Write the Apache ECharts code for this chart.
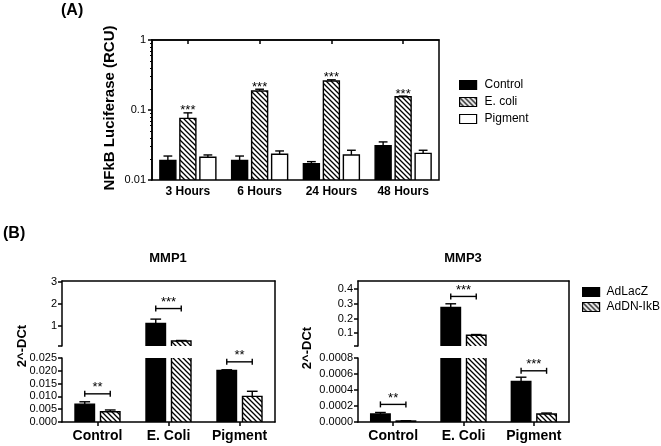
<!DOCTYPE html>
<html><head><meta charset="utf-8">
<script src="https://cdn.jsdelivr.net/npm/echarts@6/dist/echarts.min.js"></script>
<style>html,body{margin:0;padding:0;background:#fff}#c{width:661px;height:446px}</style>
</head><body><div id="c"></div>
<script>
const FONT = "'Liberation Sans', Arial, Helvetica, sans-serif";

// ---------- Panel A data (NFkB luciferase, log scale) ----------
const hourCategories = ['3 Hours', '6 Hours', '24 Hours', '48 Hours'];
const controlA    = [0.019, 0.019, 0.0171, 0.031];
const controlAErr = [0.022, 0.022, 0.0183, 0.035];
const ecoliA      = [0.076, 0.187, 0.26, 0.155];
const ecoliAErr   = [0.091, 0.198, 0.27, 0.158];
const pigmentA    = [0.0211, 0.0233, 0.0228, 0.024];
const pigmentAErr = [0.0228, 0.026, 0.0266, 0.0266];
const starsA      = ['***', '***', '***', '***'];
const minorLogTicksA = [0.02, 0.03, 0.04, 0.05, 0.06, 0.07, 0.08, 0.09, 0.2, 0.3, 0.4, 0.5, 0.6, 0.7, 0.8, 0.9];

// ---------- Panel B data ----------
const groupCategories = ['Control', 'E. Coli', 'Pigment'];
const mmp1LacZ      = [0.007, 1.12, 0.0201];
const mmp1LacZErr   = [0.0079, 1.32, 0.0204];
const mmp1DN        = [0.004, 0.33, 0.010];
const mmp1DNErr     = [0.0047, 0.35, 0.012];
const mmp1BracketAt = [0.011, 1.8, 0.0235];
const mmp1Stars     = ['**', '***', '**'];
const mmp1UpperTicks = [1, 2, 3];

const mmp3LacZ      = [0.0001, 0.275, 0.000506];
const mmp3LacZErr   = [0.000119, 0.30, 0.00056];
const mmp3DN        = [0.0000126, 0.086, 0.0001];
const mmp3DNErr     = [0.000016, 0.091, 0.000112];
const mmp3BracketAt = [0.00022, 0.35, 0.00064];
const mmp3Stars     = ['**', '***', '***'];
const mmp3UpperTicks = [0.1, 0.2, 0.3, 0.4];

// axis segment ranges
const mmp1Upper = [0.1, 3.05], mmp1Lower = [0, 0.025];
const mmp3Upper = [0.013, 0.455], mmp3Lower = [0, 0.0008];

function makeHatch() {
  const p = 5, cv = document.createElement('canvas');
  cv.width = p; cv.height = p;
  const g = cv.getContext('2d');
  g.fillStyle = '#fff'; g.fillRect(0, 0, p, p);
  g.strokeStyle = '#000'; g.lineWidth = 1.3; g.beginPath();
  g.moveTo(-1, -1); g.lineTo(p + 1, p + 1);
  g.moveTo(-1, p - 1); g.lineTo(1, p + 1);
  g.moveTo(p - 1, -1); g.lineTo(p + 1, 1);
  g.stroke();
  return cv;
}
const HATCH = { image: makeHatch(), repeat: 'repeat' };

const LINE = { color: '#000', width: 1.5 };

function barSeries(name, xi, yi, vals, errs, k, n, barW, gap, fill, base) {
  return {
    type: 'custom', name, xAxisIndex: xi, yAxisIndex: yi, clip: true, silent: true,
    itemStyle: { color: fill },
    data: vals.map((v, i) => [i, v, errs[i]]),
    renderItem(params, api) {
      const i = api.value(0), v = api.value(1), e = api.value(2);
      const off = (k - (n - 1) / 2) * (barW + gap);
      const top = api.coord([i, v]), bot = api.coord([i, base]), et = api.coord([i, e]);
      const x = top[0] + off, cap = barW * 0.55;
      return { type: 'group', children: [
        { type: 'rect', shape: { x: x - barW / 2, y: top[1], width: barW, height: bot[1] - top[1] },
          style: { fill, stroke: '#000', lineWidth: 1.4 } },
        { type: 'line', shape: { x1: x, y1: top[1], x2: x, y2: et[1] }, style: { stroke: '#000', lineWidth: 1.4 } },
        { type: 'line', shape: { x1: x - cap / 2, y1: et[1], x2: x + cap / 2, y2: et[1] }, style: { stroke: '#000', lineWidth: 1.4 } }
      ]};
    }
  };
}

function starSeries(xi, yi, vals, labels) {
  return {
    type: 'custom', xAxisIndex: xi, yAxisIndex: yi, silent: true,
    data: vals.map((v, i) => [i, v]),
    renderItem(params, api) {
      const p = api.coord([api.value(0), api.value(1)]);
      return { type: 'text', style: { text: labels[params.dataIndex], x: p[0], y: p[1] - 2,
        align: 'center', verticalAlign: 'middle', textAlign: 'center', textVerticalAlign: 'middle',
        font: '13px ' + FONT, fill: '#000' } };
    }
  };
}

function bracketSeries(xi, yi, vals, labels, range, barW, gap) {
  return {
    type: 'custom', xAxisIndex: xi, yAxisIndex: yi, silent: true, clip: false,
    data: vals.map((v, i) => [i, v]),
    renderItem(params, api) {
      const v = api.value(1);
      if (v < range[0] || v > range[1]) return null;
      const p = api.coord([api.value(0), v]);
      const h = (barW + gap) / 2, x1 = p[0] - h, x2 = p[0] + h, y = p[1];
      const st = { stroke: '#000', lineWidth: 1.4 };
      return { type: 'group', children: [
        { type: 'line', shape: { x1, y1: y, x2, y2: y }, style: st },
        { type: 'line', shape: { x1, y1: y - 3, x2: x1, y2: y + 3 }, style: st },
        { type: 'line', shape: { x1: x2, y1: y - 3, x2, y2: y + 3 }, style: st },
        { type: 'text', style: { text: labels[params.dataIndex], x: p[0], y: y - 6,
          align: 'center', verticalAlign: 'middle', textAlign: 'center', textVerticalAlign: 'middle',
          font: '13px ' + FONT, fill: '#000' } }
      ]};
    }
  };
}

const tickLabel = { color: '#000', fontSize: 11, fontFamily: FONT };
const catLabelA = { color: '#000', fontSize: 12, fontWeight: 'bold', fontFamily: FONT, margin: 6, interval: 0 };
const catLabelB = { color: '#000', fontSize: 14, fontWeight: 'bold', fontFamily: FONT, margin: 7, interval: 0 };

function bottomCat(gi, data, lbl) {
  return { gridIndex: gi, type: 'category', data, position: 'bottom',
    axisLine: { show: true, lineStyle: LINE }, axisTick: { show: true, alignWithLabel: true, interval: 0, length: 4, lineStyle: LINE },
    axisLabel: lbl, splitLine: { show: false } };
}
function topCat(gi, data) {
  return { gridIndex: gi, type: 'category', data, position: 'top',
    axisLine: { show: true, lineStyle: LINE }, axisTick: { show: false }, axisLabel: { show: false }, splitLine: { show: false } };
}
function hiddenCat(gi) {
  return { gridIndex: gi, type: 'category', data: groupCategories, show: false };
}
function frameY(gi) {
  return { gridIndex: gi, type: 'value', position: 'right', min: 0, max: 1,
    axisLine: { show: true, lineStyle: LINE }, axisTick: { show: false }, axisLabel: { show: false }, splitLine: { show: false } };
}
function segY(gi, range, opts) {
  return Object.assign({ gridIndex: gi, type: 'value', position: 'left', min: range[0], max: range[1],
    axisLine: { show: true, lineStyle: LINE }, splitLine: { show: false } }, opts);
}

const BW = 19.5, BG = 6;
const series = [
  barSeries('Control', 0, 0, controlA, controlAErr, 0, 3, 16, 4, '#000', 0.01),
  barSeries('E. coli', 0, 0, ecoliA, ecoliAErr, 1, 3, 16, 4, HATCH, 0.01),
  barSeries('Pigment', 0, 0, pigmentA, pigmentAErr, 2, 3, 16, 4, '#fff', 0.01),
  starSeries(0, 0, ecoliAErr, starsA),
  // MMP1 upper / lower
  barSeries('AdLacZ', 1, 2, mmp1LacZ, mmp1LacZErr, 0, 2, BW, BG, '#000', 0),
  barSeries('AdDN-IkB', 1, 2, mmp1DN, mmp1DNErr, 1, 2, BW, BG, HATCH, 0),
  barSeries('AdLacZ', 2, 3, mmp1LacZ, mmp1LacZErr, 0, 2, BW, BG, '#000', 0),
  barSeries('AdDN-IkB', 2, 3, mmp1DN, mmp1DNErr, 1, 2, BW, BG, HATCH, 0),
  bracketSeries(1, 2, mmp1BracketAt, mmp1Stars, mmp1Upper, BW, BG),
  bracketSeries(2, 3, mmp1BracketAt, mmp1Stars, mmp1Lower, BW, BG),
  // MMP3 upper / lower
  barSeries('AdLacZ', 3, 4, mmp3LacZ, mmp3LacZErr, 0, 2, BW, BG, '#000', 0),
  barSeries('AdDN-IkB', 3, 4, mmp3DN, mmp3DNErr, 1, 2, BW, BG, HATCH, 0),
  barSeries('AdLacZ', 4, 5, mmp3LacZ, mmp3LacZErr, 0, 2, BW, BG, '#000', 0),
  barSeries('AdDN-IkB', 4, 5, mmp3DN, mmp3DNErr, 1, 2, BW, BG, HATCH, 0),
  bracketSeries(3, 4, mmp3BracketAt, mmp3Stars, mmp3Upper, BW, BG),
  bracketSeries(4, 5, mmp3BracketAt, mmp3Stars, mmp3Lower, BW, BG)
];

function gtext(text, x, y, font, align, rot) {
  return { type: 'text', x, y, rotation: rot || 0, silent: true,
    style: { text, font, fill: '#000', align: align, verticalAlign: 'middle', textAlign: align, textVerticalAlign: 'middle' } };
}

const legendIcon = (name, color) => ({ name, icon: 'rect', itemStyle: { color, borderColor: '#000', borderWidth: 1.2 } });

const option = {
  animation: false,
  backgroundColor: '#fff',
  textStyle: { fontFamily: FONT },
  grid: [
    { left: 152, top: 40, width: 287, height: 140, show: true, borderColor: '#000', borderWidth: 1.5, backgroundColor: 'transparent' },
    { left: 62, top: 281, width: 213, height: 65 },
    { left: 62, top: 358, width: 213, height: 64 },
    { left: 358, top: 281, width: 211, height: 65 },
    { left: 358, top: 358, width: 211, height: 64 },
    { left: 62, top: 281, width: 213, height: 141 },
    { left: 358, top: 281, width: 211, height: 141 }
  ],
  xAxis: [
    bottomCat(0, hourCategories, catLabelA),
    topCat(1, groupCategories),
    bottomCat(2, groupCategories, catLabelB),
    topCat(3, groupCategories),
    bottomCat(4, groupCategories, catLabelB),
    hiddenCat(5),
    hiddenCat(6)
  ],
  yAxis: [
    { gridIndex: 0, type: 'log', logBase: 10, min: 0.01, max: 1, position: 'left',
      axisLine: { show: true, lineStyle: LINE }, axisTick: { show: true, length: 4, lineStyle: LINE },
      axisLabel: Object.assign({ margin: 6, formatter: v => String(+(+v).toPrecision(3)) }, tickLabel),
      splitLine: { show: false } },
    { gridIndex: 0, type: 'value', min: -2, max: 0, position: 'left', offset: 0,
      axisLine: { show: false }, axisLabel: { show: false }, splitLine: { show: false },
      axisTick: { show: true, length: 2, lineStyle: { color: '#000', width: 1 }, customValues: minorLogTicksA.map(Math.log10) } },
    segY(1, mmp1Upper, {
      axisTick: { show: true, length: 4, lineStyle: LINE, customValues: [mmp1Upper[0]].concat(mmp1UpperTicks) },
      axisLabel: Object.assign({ margin: 5, customValues: mmp1UpperTicks, formatter: v => String(v) }, tickLabel) }),
    segY(2, mmp1Lower, { interval: 0.005,
      axisTick: { show: true, length: 4, lineStyle: LINE },
      axisLabel: Object.assign({ margin: 5, formatter: v => (+v).toFixed(3) }, tickLabel) }),
    segY(3, mmp3Upper, {
      axisTick: { show: true, length: 4, lineStyle: LINE, customValues: [mmp3Upper[0]].concat(mmp3UpperTicks) },
      axisLabel: Object.assign({ margin: 5, customValues: mmp3UpperTicks, formatter: v => (+v).toFixed(1) }, tickLabel) }),
    segY(4, mmp3Lower, { interval: 0.0002,
      axisTick: { show: true, length: 4, lineStyle: LINE },
      axisLabel: Object.assign({ margin: 5, formatter: v => (+v).toFixed(4) }, tickLabel) }),
    frameY(5),
    frameY(6)
  ],
  legend: [
    { left: 459, top: 78, padding: 0, orient: 'vertical', itemWidth: 17, itemHeight: 9, itemGap: 3, selectedMode: false,
      textStyle: { fontSize: 12, fontFamily: FONT, color: '#000', lineHeight: 14, padding: [0, 0, 0, 3] },
      data: [legendIcon('Control', '#000'), legendIcon('E. coli', HATCH), legendIcon('Pigment', '#fff')] },
    { left: 582, top: 285, padding: 0, orient: 'vertical', itemWidth: 17, itemHeight: 9, itemGap: 1, selectedMode: false,
      textStyle: { fontSize: 12, fontFamily: FONT, color: '#000', lineHeight: 14, padding: [0, 0, 0, 2] },
      data: [legendIcon('AdLacZ', '#000'), legendIcon('AdDN-IkB', HATCH)] }
  ],
  graphic: [
    gtext('(A)', 61, 11, 'bold 16px ' + FONT, 'left'),
    gtext('(B)', 3, 234, 'bold 16px ' + FONT, 'left'),
    gtext('NFkB Luciferase (RCU)', 110, 108, 'bold 15px ' + FONT, 'center', Math.PI / 2),
    gtext('MMP1', 168, 258, 'bold 13px ' + FONT, 'center'),
    gtext('MMP3', 463, 258, 'bold 13px ' + FONT, 'center'),
    gtext('2^-DCt', 22, 346, 'bold 13px ' + FONT, 'center', Math.PI / 2),
    gtext('2^-DCt', 307, 348, 'bold 13px ' + FONT, 'center', Math.PI / 2)
  ],
  series
};

const chart = echarts.init(document.getElementById('c'), null, { renderer: 'canvas' });
chart.setOption(option);
</script>
</body></html>
